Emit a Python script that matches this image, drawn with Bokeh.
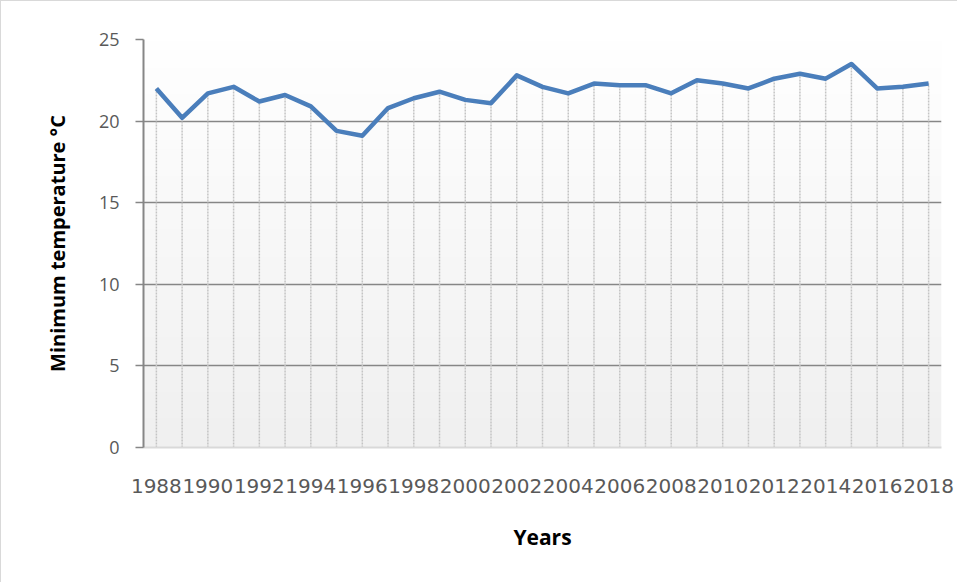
import numpy as np
from bokeh.plotting import figure
from bokeh.models import Range1d, FixedTicker
from bokeh.embed import file_html
from bokeh.resources import INLINE

years = list(range(1988, 2019))
min_temp = [22.0, 20.2, 21.7, 22.1, 21.2, 21.6, 20.9, 19.4, 19.1, 20.8,
            21.4, 21.8, 21.3, 21.1, 22.8, 22.1, 21.7, 22.3, 22.2, 22.2,
            21.7, 22.5, 22.3, 22.0, 22.6, 22.9, 22.6, 23.5, 22.0, 22.1, 22.3]
x_ticks = list(range(1988, 2019, 2))
x_tick_labels = [str(y) for y in x_ticks]
y_ticks = [0, 5, 10, 15, 20, 25]

p = figure(width=957, height=582, output_backend="svg", toolbar_location=None,
           x_range=Range1d(years[0] - 0.5, years[-1] + 0.5), y_range=Range1d(0, 25),
           min_border_left=142, min_border_right=17, min_border_top=38, min_border_bottom=136,
           background_fill_color="white", border_fill_color="white",
           styles={"border-left": "1px solid #d9d9d9", "border-top": "1px solid #d9d9d9"})
p.outline_line_color = None

# gradient background of the plot area
n = 200
t = np.linspace(0, 1, n)  # 0 bottom -> 1 top
g = (240 + (255 - 240) * t).astype(np.uint32)
row = (255 << 24) | (g << 16) | (g << 8) | g
img = np.repeat(row[:, None], 2, axis=1).astype(np.uint32)
p.image_rgba(image=[img], x=years[0] - 0.5, y=0, dw=len(years), dh=25, level="image")

# drop lines
p.segment(x0=years, y0=[0] * len(years), x1=years, y1=min_temp,
          line_color="#c4c4c4", line_width=1.5, line_dash="2 1")

p.line(years, min_temp, line_color="#4a7ebb", line_width=4.5, line_join="round")

# grid
p.xgrid.grid_line_color = None
p.ygrid.ticker = FixedTicker(ticks=y_ticks)
p.ygrid.grid_line_color = "#868686"
p.ygrid.grid_line_width = 1.5

# x axis
p.xaxis.ticker = FixedTicker(ticks=x_ticks)
p.xaxis.major_label_overrides = {t_: l for t_, l in zip(x_ticks, x_tick_labels)}
p.xaxis.axis_line_color = "#d9d9d9"
p.xaxis.axis_line_width = 2
p.xaxis.major_tick_line_color = None
p.xaxis.minor_tick_line_color = None
p.xaxis.major_label_text_font = "DejaVu Sans"
p.xaxis.major_label_text_font_size = "20px"
p.xaxis.major_label_text_color = "#595959"
p.xaxis.major_label_standoff = 25
p.xaxis.axis_label = "Years"
p.xaxis.axis_label_text_font = "Open Sans"
p.xaxis.axis_label_text_font_style = "bold"
p.xaxis.axis_label_text_font_size = "21px"
p.xaxis.axis_label_text_color = "black"
p.xaxis.axis_label_standoff = 27

# y axis
p.yaxis.ticker = FixedTicker(ticks=y_ticks)
p.yaxis.axis_line_color = "#868686"
p.yaxis.axis_line_width = 2
p.yaxis.major_tick_line_color = "#868686"
p.yaxis.major_tick_line_width = 1.5
p.yaxis.major_tick_out = 8
p.yaxis.major_tick_in = 0
p.yaxis.minor_tick_line_color = None
p.yaxis.major_label_text_font = "Open Sans"
p.yaxis.major_label_text_font_size = "18px"
p.yaxis.major_label_text_color = "#595959"
p.yaxis.major_label_standoff = 16
p.yaxis.axis_label = "Minimum temperature °C"
p.yaxis.axis_label_text_font = "Open Sans"
p.yaxis.axis_label_text_font_style = "bold"
p.yaxis.axis_label_text_font_size = "20px"
p.yaxis.axis_label_text_color = "black"
p.yaxis.axis_label_standoff = 25

open("out.html", "w").write(file_html(p, INLINE))
